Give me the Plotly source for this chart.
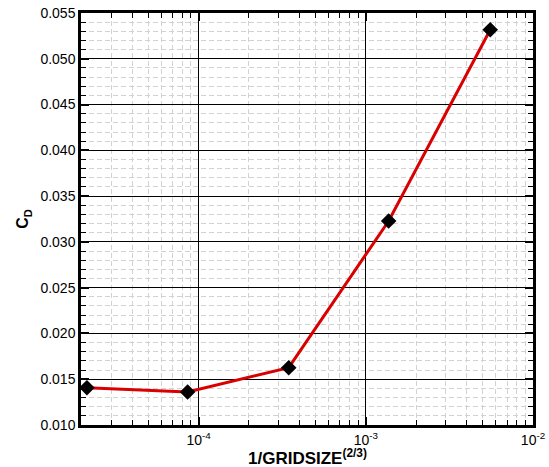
import plotly.graph_objects as go

# Drag coefficient versus grid-size parameter
inv_gridsize = [2.15e-5, 8.6e-5, 3.46e-4, 1.37e-3, 5.55e-3]
cd_values = [0.01407, 0.01360, 0.01626, 0.03228, 0.05317]

x_tickvals = [1e-4, 1e-3, 1e-2]
x_ticktext = ["10<sup>-4</sup>", "10<sup>-3</sup>", "10<sup>-2</sup>"]
y_tickvals = [0.010, 0.015, 0.020, 0.025, 0.030, 0.035, 0.040, 0.045, 0.050, 0.055]

X_TITLE = "<b>1/GRIDSIZE<sup>(2/3)</sup></b>"
Y_TITLE = "<b>C<sub>D</sub></b>"

FONT = "Liberation Sans, Arial, Helvetica, sans-serif"
MINOR_GRID = dict(showgrid=True, gridcolor="#d2d2d2", griddash="5px,3px", gridwidth=1)

fig = go.Figure()
fig.add_trace(go.Scatter(
    x=inv_gridsize, y=cd_values,
    mode="lines+markers",
    line=dict(color="#d90000", width=3),
    marker=dict(symbol="diamond", size=12, color="black"),
    showlegend=False,
))

fig.update_layout(
    width=549, height=467,
    margin=dict(l=81, r=16, t=13, b=42),
    plot_bgcolor="white", paper_bgcolor="white",
    font=dict(family=FONT, size=14, color="black"),
)

# x-axis title placed just under the tick labels
fig.add_annotation(
    text=X_TITLE, xref="paper", yref="paper", x=0.5, y=0,
    xanchor="center", yanchor="top", yshift=-19, showarrow=False,
    font=dict(size=17),
)

fig.update_xaxes(
    type="log", range=[-4.703, -2.0],
    tickvals=x_tickvals, ticktext=x_ticktext,
    ticks="inside", ticklen=8, tickwidth=2, tickcolor="black",
    showline=True, linewidth=2.5, linecolor="black", mirror="allticks",
    showgrid=True, gridcolor="black", gridwidth=1,
    minor=dict(dtick="D1", ticks="inside", ticklen=5, tickwidth=1, tickcolor="black", **MINOR_GRID),
    tickfont=dict(size=14),
    zeroline=False, automargin=False,
)

fig.update_yaxes(
    range=[0.010, 0.055],
    tickvals=y_tickvals, tickformat=".3f",
    ticks="inside", ticklen=8, tickwidth=2, tickcolor="black",
    showline=True, linewidth=2.5, linecolor="black", mirror="allticks",
    showgrid=True, gridcolor="black", gridwidth=1,
    minor=dict(dtick=0.001, ticks="inside", ticklen=5, tickwidth=1, tickcolor="black", **MINOR_GRID),
    title=dict(text=Y_TITLE, font=dict(size=16), standoff=8),
    tickfont=dict(size=14),
    zeroline=False, automargin=False,
)

fig.write_html("out.html")
